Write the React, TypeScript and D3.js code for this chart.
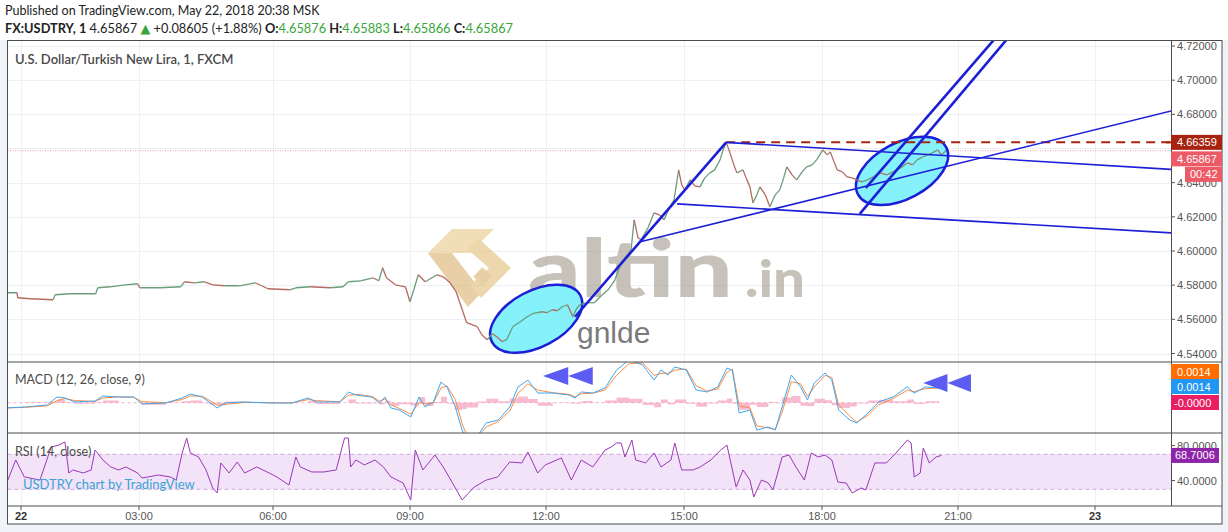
import React from 'react';
import * as d3 from 'd3';

// ---- time axis (minutes since 00:00, May 22) ----
const timeTicks = [0, 180, 360, 540, 720, 900, 1080, 1260, 1440];
const timeLabels = ['22', '03:00', '06:00', '09:00', '12:00', '15:00', '18:00', '21:00', '23'];

// ---- price (1 min close, sampled) ----
const priceTimes = [-20, -6, -5, 14, 49, 52, 75, 114, 117, 136, 159, 178, 181, 208, 236, 241, 254, 268, 279, 295, 315, 336, 345, 353, 382, 390, 409, 435, 452, 459, 475, 491, 499, 504, 509, 521, 534, 540, 545, 551, 560, 576, 584, 593, 601, 606, 615, 622, 629, 635, 642, 649, 655, 662, 668, 676, 686, 695, 702, 708, 715, 721, 728, 735, 741, 748, 755, 759, 764, 774, 783, 792, 801, 810, 818, 826, 831, 835, 840, 844, 853, 861, 868, 874, 881, 887, 893, 897, 901, 908, 914, 921, 927, 934, 940, 947, 951, 955, 960, 965, 969, 977, 982, 986, 990, 995, 999, 1006, 1012, 1019, 1025, 1030, 1034, 1041, 1047, 1054, 1060, 1067, 1073, 1081, 1087, 1091, 1096, 1100, 1107, 1113, 1120, 1126, 1133, 1140, 1148, 1157, 1166, 1174, 1184, 1193, 1200, 1206, 1213, 1220, 1226, 1233, 1238, 1244];
const priceClose = [4.57556, 4.57556, 4.57263, 4.57205, 4.57146, 4.57439, 4.57497, 4.57497, 4.57848, 4.57906, 4.58023, 4.58082, 4.57848, 4.57848, 4.57906, 4.58199, 4.5814, 4.58199, 4.58023, 4.57965, 4.57965, 4.5814, 4.57965, 4.57789, 4.57731, 4.57848, 4.57906, 4.57848, 4.57906, 4.58199, 4.58257, 4.58433, 4.58257, 4.59018, 4.58433, 4.58023, 4.57906, 4.57029, 4.57731, 4.58608, 4.58199, 4.58608, 4.58491, 4.5814, 4.57614, 4.56971, 4.55801, 4.55684, 4.55567, 4.55099, 4.54807, 4.55158, 4.54982, 4.5469, 4.54807, 4.55567, 4.5586, 4.56152, 4.56327, 4.56386, 4.56444, 4.56386, 4.56561, 4.56503, 4.56737, 4.56854, 4.56152, 4.56561, 4.56854, 4.56971, 4.56971, 4.5738, 4.57731, 4.58316, 4.5931, 4.59778, 4.6007, 4.61825, 4.60772, 4.60655, 4.61357, 4.62234, 4.62117, 4.61825, 4.62526, 4.62994, 4.64749, 4.63871, 4.63579, 4.64164, 4.63813, 4.63754, 4.64281, 4.64573, 4.64749, 4.65333, 4.65918, 4.66359, 4.65743, 4.65041, 4.64573, 4.64749, 4.64164, 4.63754, 4.62819, 4.63287, 4.63754, 4.63287, 4.62585, 4.63287, 4.63579, 4.64281, 4.64924, 4.64456, 4.64164, 4.64632, 4.64924, 4.65041, 4.65333, 4.65918, 4.65626, 4.65801, 4.65216, 4.64749, 4.64632, 4.64339, 4.64281, 4.64164, 4.64047, 4.64164, 4.64339, 4.64573, 4.64456, 4.64632, 4.64865, 4.65158, 4.65041, 4.65333, 4.65509, 4.65626, 4.65743, 4.65918, 4.65626, 4.65867];
const priceTicks = [4.54, 4.56, 4.58, 4.6, 4.62, 4.64, 4.66, 4.68, 4.7, 4.72];

// ---- MACD (12, 26, close, 9) ----
const macdTimes = [-23, 5, 40, 55, 67, 82, 113, 125, 149, 172, 184, 216, 238, 249, 265, 274, 285, 296, 322, 355, 385, 406, 417, 448, 459, 469, 490, 500, 507, 515, 526, 541, 552, 560, 571, 581, 589, 600, 609, 615, 630, 641, 657, 672, 683, 696, 709, 729, 750, 758, 766, 781, 797, 812, 828, 846, 861, 870, 879, 888, 903, 916, 930, 944, 956, 963, 972, 986, 995, 1010, 1019, 1028, 1040, 1052, 1061, 1070, 1084, 1093, 1102, 1117, 1126, 1141, 1155, 1174, 1193, 1202, 1217, 1235];
// values in 1e-4
const macdLine = [-5.0, -4.1, -2.2, 5.4, 4.5, 0.7, 1.6, 6.4, 5.4, 5.4, -1.2, -0.3, 4.5, 8.3, 5.4, 0.7, -5.0, -0.3, 0.7, -0.3, -0.3, 4.5, 0.7, 0.7, 10.2, 7.3, 5.4, -0.3, 5.4, -5.0, -7.0, -13.6, 5.4, -4.1, 0.7, 19.7, 15.0, -4.1, -26.0, -35.5, -30.8, -19.3, -16.5, -4.1, 15.0, 21.6, 9.2, 9.2, 7.3, 4.5, 10.2, 9.2, 14.0, 31.1, 40.7, 35.9, 21.6, 31.1, 26.4, 34.0, 31.1, 12.1, 10.2, 15.0, 33.0, 31.1, -9.8, -7.0, -26.0, -23.1, -26.0, -4.1, 26.4, 15.0, 2.6, 18.8, 28.3, 21.6, -7.0, -16.5, -19.3, -9.8, 0.7, 5.4, 15.0, 9.2, 15.0, 14.0];
const macdSignal = [-5.0, -4.5, -3.0, 2.0, 4.0, 2.0, 1.2, 4.5, 5.5, 5.2, 1.0, 0.0, 3.0, 6.5, 6.0, 2.5, -2.5, -1.5, 0.3, 0.0, -0.2, 3.0, 2.0, 0.8, 7.0, 8.0, 6.0, 1.5, 3.5, -2.0, -5.5, -11.0, 0.0, -1.0, 0.0, 14.0, 16.0, 3.0, -20.0, -31.0, -32.0, -23.0, -18.0, -8.0, 9.0, 18.0, 12.0, 9.5, 8.0, 5.5, 8.5, 9.0, 12.0, 26.0, 37.0, 38.0, 26.0, 28.0, 28.0, 31.0, 32.0, 16.0, 11.0, 13.0, 29.0, 32.0, -3.0, -5.0, -22.0, -24.0, -25.5, -9.0, 20.0, 18.0, 6.0, 15.0, 26.0, 24.0, -2.0, -13.0, -18.5, -12.0, -2.0, 4.0, 12.0, 10.5, 13.5, 14.0];
const macdHist = [0, 0.5, 1, 3, 0.5, -1, 0.4, 2, 0, 0.3, -2, -0.3, 1.5, 2, -0.5, -1.8, -2.5, 1.2, 0.4, -0.3, 0, 1.5, -1.3, 0, 3, -0.7, -0.6, -1.8, 1.9, -3, -1.5, -2.6, 5.4, -3.1, 0.7, 5.7, -1, -7, -6, -4.5, 1.2, 3.7, 1.5, 3.9, 6, 3.6, -2.8, -0.3, -0.7, -1, 1.7, 0.2, 2, 5, 3.7, -2.1, -4.4, 3.1, -1.6, 3, -0.9, -3.9, -0.8, 2, 4, -0.9, -6.8, -2, -4, 0.9, -0.5, 4.9, 6.4, -3, -3.4, 3.8, 2.3, -2.4, -5, -3.5, -0.8, 2.2, 2.7, 1.4, 3, -1.3, 1.5, 0];

// ---- RSI (14, close) ----
const rsiTimes = [-20, -8, 5, 29, 46, 58, 67, 73, 79, 95, 107, 113, 125, 137, 149, 160, 178, 184, 206, 222, 230, 238, 244, 249, 260, 270, 279, 285, 290, 301, 312, 322, 338, 355, 365, 381, 390, 396, 411, 427, 443, 454, 459, 462, 469, 480, 494, 505, 515, 531, 541, 547, 557, 573, 584, 594, 609, 625, 641, 656, 672, 688, 696, 709, 719, 740, 753, 766, 781, 797, 805, 812, 818, 823, 832, 837, 850, 861, 870, 883, 888, 897, 912, 921, 935, 948, 956, 968, 977, 986, 991, 1001, 1010, 1016, 1028, 1037, 1046, 1057, 1066, 1075, 1084, 1093, 1101, 1112, 1120, 1132, 1138, 1150, 1165, 1178, 1193, 1198, 1202, 1210, 1214, 1222, 1231, 1238];
const rsiValues = [40.6, 63.5, 44.1, 40.6, 78.3, 80.6, 84.1, 48.6, 52.1, 48.6, 52.1, 74.9, 63.5, 55.5, 52.1, 55.5, 48.6, 42.9, 46.3, 44.1, 40.6, 71.5, 88.6, 71.5, 66.9, 52.1, 31.5, 25.8, 60.1, 48.6, 61.2, 48.6, 55.5, 48.6, 44.1, 34.9, 66.9, 55.5, 49.8, 49.8, 52.1, 88.6, 88.6, 55.5, 63.5, 57.8, 63.5, 55.5, 44.1, 37.2, 17.8, 74.9, 52.1, 69.2, 55.5, 40.6, 17.8, 32.6, 40.6, 44.1, 61.2, 60.1, 72.6, 48.6, 57.8, 65.8, 40.6, 63.5, 55.5, 74.9, 78.3, 82.9, 82.9, 66.9, 86.3, 63.5, 60.1, 71.5, 55.5, 63.5, 82.9, 52.1, 52.1, 55.5, 63.5, 74.9, 80.6, 32.6, 52.1, 40.6, 21.2, 40.6, 37.2, 29.2, 66.9, 69.2, 55.5, 40.6, 71.5, 66.9, 69.2, 63.5, 38.3, 37.2, 25.8, 31.5, 29.2, 60.1, 60.1, 71.5, 86.3, 82.9, 44.1, 48.6, 77.2, 60.1, 66.9, 68.7];

// ---- drawings: [t1, p1, t2, p2] ----
const thickLines = [
  [758, 4.56152, 955, 4.66359],
  [1130, 4.62175, 1236, 4.67737],
  [1138, 4.63696, 1223, 4.68041],
];
const rayLines = [
  [955, 4.66359, 1244, 4.65579],
  [891, 4.6276, 1244, 4.61836],
  [843, 4.60538, 1244, 4.64947],
];
const resistance = [955, 4.66359];
const ellipses = [
  [707, 4.56035],
  [1186, 4.6469],
];
// MACD arrows [tipTime, midTime, endTime, value]
const macdArrows = [
  [716, 749, 781, 0.00254],
  [1214, 1246, 1277, 0.00188],
];

const FONT = 'Lato, "Open Sans", "DejaVu Sans", sans-serif';
const AXF = '"Liberation Sans", Arial, sans-serif';

export default function App() {
  const L = 7.5, R = 1171, RE = 1222;
  const mainTop = 40.5, mainBot = 362, macdBot = 433, rsiBot = 506, axBot = 524;

  const x = d3.scaleLinear().domain(timeTicks).range([21, 139, 273, 410, 546, 684, 822, 958, 1095]);
  const yP = d3.scaleLinear().domain([4.54, 4.72]).range([353.5, 46]);
  const yM = d3.scaleLinear().domain([-0.003, 0.004]).range([434.2, 360.7]);
  const yR = d3.scaleLinear().domain([30, 70]).range([489.3, 454.3]);

  const segs = priceClose.slice(1).map((p, i) => ({
    x1: x(priceTimes[i]), y1: yP(priceClose[i]),
    x2: x(priceTimes[i + 1]), y2: yP(p),
    up: p >= priceClose[i],
  }));

  const macdPts = macdTimes.map((t, i) => ({ t, m: macdLine[i] * 1e-4, s: macdSignal[i] * 1e-4, h: macdHist[i] * 1e-4 }));
  const lineM = d3.line<any>().x(d => x(d.t)).y(d => yM(d.m));
  const lineS = d3.line<any>().x(d => x(d.t)).y(d => yM(d.s));
  const areaH = d3.area<any>().x(d => x(d.t)).y0(yM(0)).y1(d => yM(d.h)).curve(d3.curveStepAfter);
  const rsiLine = d3.line<number>().x((_, i) => x(rsiTimes[i])).y(v => yR(v));

  const ext = (a: number[], far = 12) => {
    const x1 = x(a[0]), y1 = yP(a[1]), x2 = x(a[2]), y2 = yP(a[3]);
    return { x1, y1, x2: x1 + (x2 - x1) * far, y2: y1 + (y2 - y1) * far };
  };

  const blue = '#1c1fd6';
  const lastPrice = priceClose[priceClose.length - 1];
  const hiddenTicks = [4.66];

  return (
    <svg width={1228} height={532} style={{ position: 'absolute', left: 0, top: 0, display: 'block' }}>
      <defs>
        <clipPath id="cMain"><rect x={L} y={mainTop} width={R - L} height={mainBot - mainTop} /></clipPath>
        <clipPath id="cMacd"><rect x={L} y={mainBot} width={R - L} height={macdBot - mainBot} /></clipPath>
        <clipPath id="cRsi"><rect x={L} y={macdBot} width={R - L} height={rsiBot - macdBot} /></clipPath>
      </defs>
      <rect width={1228} height={532} fill="#f0f3f7" />
      <rect width={1228} height={40} fill="#ffffff" />
      <rect x={L} y={mainTop} width={RE - L} height={axBot - mainTop} fill="#ffffff" />

      {/* header */}
      <text x={5} y={15} fontFamily={FONT} fontSize={12.5} fill="#222">Published on TradingView.com, May 22, 2018 20:38 MSK</text>
      <text x={5} y={33} fontFamily={FONT} fontSize={12.8} fill="#222">
        <tspan fontWeight="bold">FX:USDTRY, 1</tspan>
        <tspan> 4.65867 </tspan>
        <tspan fill="#3aa53a">▲</tspan>
        <tspan> +0.08605 (+1.88%) </tspan>
        <tspan fontWeight="bold">O:</tspan><tspan fill="#3aa53a">4.65876</tspan>
        <tspan fontWeight="bold"> H:</tspan><tspan fill="#3aa53a">4.65883</tspan>
        <tspan fontWeight="bold"> L:</tspan><tspan fill="#3aa53a">4.65866</tspan>
        <tspan fontWeight="bold"> C:</tspan><tspan fill="#3aa53a">4.65867</tspan>
      </text>

      {/* grid */}
      <g stroke="#edf0f4" strokeWidth={1}>
        {timeTicks.map(t => (
          <line key={t} x1={Math.round(x(t)) + 0.5} x2={Math.round(x(t)) + 0.5} y1={mainTop} y2={rsiBot} />
        ))}
        {priceTicks.map(p => (
          <line key={p} x1={L} x2={R} y1={Math.round(yP(p)) + 0.5} y2={Math.round(yP(p)) + 0.5} />
        ))}
      </g>

      {/* watermark */}
      <g opacity={0.6}>
        <polygon points="428,253 452,229 494,229 470,253" fill="#e9c98a" />
        <polygon points="428,253 452,253 482,292 468,307" fill="#d9b06a" />
        <polygon points="478,238 511,268 481,298 470,285 489,268 466,248" fill="#e2bd78" />
        <rect x={476} y={270} width={13} height={13} transform="rotate(45 482.5 276.5)" fill="#d9b06a" />
        <text x={528} y={297} fontFamily={FONT} fontWeight={900} fontSize={80} fill="#a39a8b" textLength={205} lengthAdjust="spacingAndGlyphs">altin</text>
        <text x={745} y={297} fontFamily={FONT} fontWeight={900} fontSize={52} fill="#a39a8b" textLength={60} lengthAdjust="spacingAndGlyphs">.in</text>
      </g>
      <text x={577} y={343} fontFamily={'"Liberation Sans", Arial, sans-serif'} fontSize={30} fill="#7a7a7a">gnlde</text>

      {/* main pane */}
      <g clipPath="url(#cMain)">
        <text x={15} y={64} fontFamily={FONT} fontSize={13} fontWeight={600} fill="#4a4a4a">U.S. Dollar/Turkish New Lira, 1, FXCM</text>
        <line x1={L} x2={R} y1={yP(lastPrice)} y2={yP(lastPrice)} stroke="#f08a8a" strokeWidth={0.8} strokeDasharray="1,1.5" />
        {ellipses.map((e, i) => (
          <ellipse key={i} cx={x(e[0])} cy={yP(e[1])} rx={50} ry={28} transform={`rotate(-28 ${x(e[0])} ${yP(e[1])})`} fill="#85f2fb" stroke={blue} strokeWidth={2.5} />
        ))}
        {segs.map((s, i) => (
          <line key={i} x1={s.x1} y1={s.y1} x2={s.x2} y2={s.y2} stroke={s.up ? '#6a9c7a' : '#b56a60'} strokeWidth={1.3} />
        ))}
        <line x1={x(resistance[0])} x2={R} y1={yP(resistance[1])} y2={yP(resistance[1])} stroke="#a82512" strokeWidth={2} strokeDasharray="9,6" />
        {rayLines.map((a, i) => {
          const l = ext(a);
          return <line key={i} {...l} stroke={blue} strokeWidth={1.6} />;
        })}
        {thickLines.map((a, i) => {
          const l = i === 0 ? { x1: x(a[0]), y1: yP(a[1]), x2: x(a[2]), y2: yP(a[3]) } : ext(a);
          return <line key={i} {...l} stroke={blue} strokeWidth={2.6} />;
        })}
      </g>

      {/* MACD pane */}
      <g clipPath="url(#cMacd)">
        <line x1={L} x2={x(macdTimes[macdTimes.length - 1])} y1={yM(0)} y2={yM(0)} stroke="#f4b6cb" strokeDasharray="3,3" />
        <path d={areaH(macdPts) || ''} fill="#f48fb1" opacity={0.6} />
        <path d={lineS(macdPts) || ''} fill="none" stroke="#ff8a3d" strokeWidth={1} />
        <path d={lineM(macdPts) || ''} fill="none" stroke="#3ea6f0" strokeWidth={1} />
        {macdArrows.map((a, i) => (
          <g key={i} fill="#5b5cf2">
            <polygon points={`${x(a[0])},${yM(a[3])} ${x(a[1])},${yM(a[3]) - 9} ${x(a[1])},${yM(a[3]) + 9}`} />
            <polygon points={`${x(a[1])},${yM(a[3])} ${x(a[2])},${yM(a[3]) - 9} ${x(a[2])},${yM(a[3]) + 9}`} />
          </g>
        ))}
        <text x={15} y={384} fontFamily={FONT} fontSize={12.5} fill="#4a4a4a">MACD (12, 26, close, 9)</text>
      </g>

      {/* RSI pane */}
      <g clipPath="url(#cRsi)">
        <rect x={L} y={yR(70)} width={R - L} height={yR(30) - yR(70)} fill="#f2e3f8" />
        <line x1={L} x2={R} y1={yR(70)} y2={yR(70)} stroke="#cfa8dc" strokeDasharray="4,3" />
        <line x1={L} x2={R} y1={yR(30)} y2={yR(30)} stroke="#cfa8dc" strokeDasharray="4,3" />
        <path d={rsiLine(rsiValues) || ''} fill="none" stroke="#9a37b8" strokeWidth={1} />
        <text x={15} y={456} fontFamily={FONT} fontSize={12.5} fill="#4a4a4a">RSI (14, close)</text>
        <text x={23} y={489} fontFamily={FONT} fontSize={13} fill="#3aa3d4">USDTRY chart by TradingView</text>
      </g>

      {/* frame */}
      <g stroke="#4d4d4d" strokeWidth={1} fill="none">
        <rect x={L} y={mainTop} width={RE - L} height={axBot - mainTop} />
        <line x1={R + 0.5} x2={R + 0.5} y1={mainTop} y2={rsiBot} />
        <line x1={L} x2={RE} y1={mainBot} y2={mainBot} />
        <line x1={L} x2={RE} y1={macdBot} y2={macdBot} />
        <line x1={L} x2={RE} y1={rsiBot} y2={rsiBot} />
      </g>

      {/* price axis */}
      <g fontFamily={AXF} fontSize={11} fill="#555">
        {priceTicks.map(p => (
          <g key={p}>
            <line x1={R} x2={R + 4} y1={yP(p)} y2={yP(p)} stroke="#555" />
            {hiddenTicks.includes(p) ? null : <text x={R + 6} y={yP(p) + 4}>{p.toFixed(5)}</text>}
          </g>
        ))}
        {[80, 40].map(v => (
          <g key={v}>
            <line x1={R} x2={R + 4} y1={yR(v)} y2={yR(v)} stroke="#555" />
            <text x={R + 6} y={yR(v) + 4}>{v.toFixed(4)}</text>
          </g>
        ))}
      </g>
      <line x1={R - 5} x2={R} y1={yP(resistance[1])} y2={yP(resistance[1])} stroke="#a82512" strokeWidth={2} />
      <g fontFamily={AXF} fontSize={11} fill="#fff">
        <rect x={R} y={yP(resistance[1]) - 7.5} width={RE - R} height={15} fill="#a8230f" />
        <text x={R + 6} y={yP(resistance[1]) + 4}>{resistance[1].toFixed(5)}</text>
        <rect x={R} y={yP(resistance[1]) + 9} width={RE - R} height={15} fill="#ec5a66" />
        <text x={R + 6} y={yP(resistance[1]) + 20.5}>{lastPrice.toFixed(5)}</text>
        <rect x={R + 14} y={yP(resistance[1]) + 24.5} width={RE - R - 14} height={15} fill="#ec5a66" />
        <text x={R + 19} y={yP(resistance[1]) + 36}>00:42</text>

        <rect x={R} y={364} width={48} height={15} fill="#ff6d00" />
        <text x={R + 6} y={375.5}>0.0014</text>
        <rect x={R} y={379} width={48} height={15} fill="#2196f3" />
        <text x={R + 6} y={390.5}>0.0014</text>
        <rect x={R} y={395} width={48} height={15} fill="#e91e63" />
        <text x={R + 3} y={406.5}>-0.0000</text>

        <rect x={R} y={yR(68.7006) - 7.5} width={48} height={15} fill="#8e24aa" />
        <text x={R + 4} y={yR(68.7006) + 4}>68.7006</text>
      </g>

      {/* time axis */}
      <g fontFamily={AXF} fontSize={11} fill="#555">
        {timeTicks.map((t, i) => (
          <g key={t}>
            <line x1={x(t)} x2={x(t)} y1={rsiBot} y2={rsiBot + 4} stroke="#555" />
            <text x={x(t)} y={520} textAnchor="middle" fontWeight={i === 0 || i === 8 ? 'bold' : 'normal'} fill={i === 0 || i === 8 ? '#333' : '#555'}>{timeLabels[i]}</text>
          </g>
        ))}
      </g>
    </svg>
  );
}
